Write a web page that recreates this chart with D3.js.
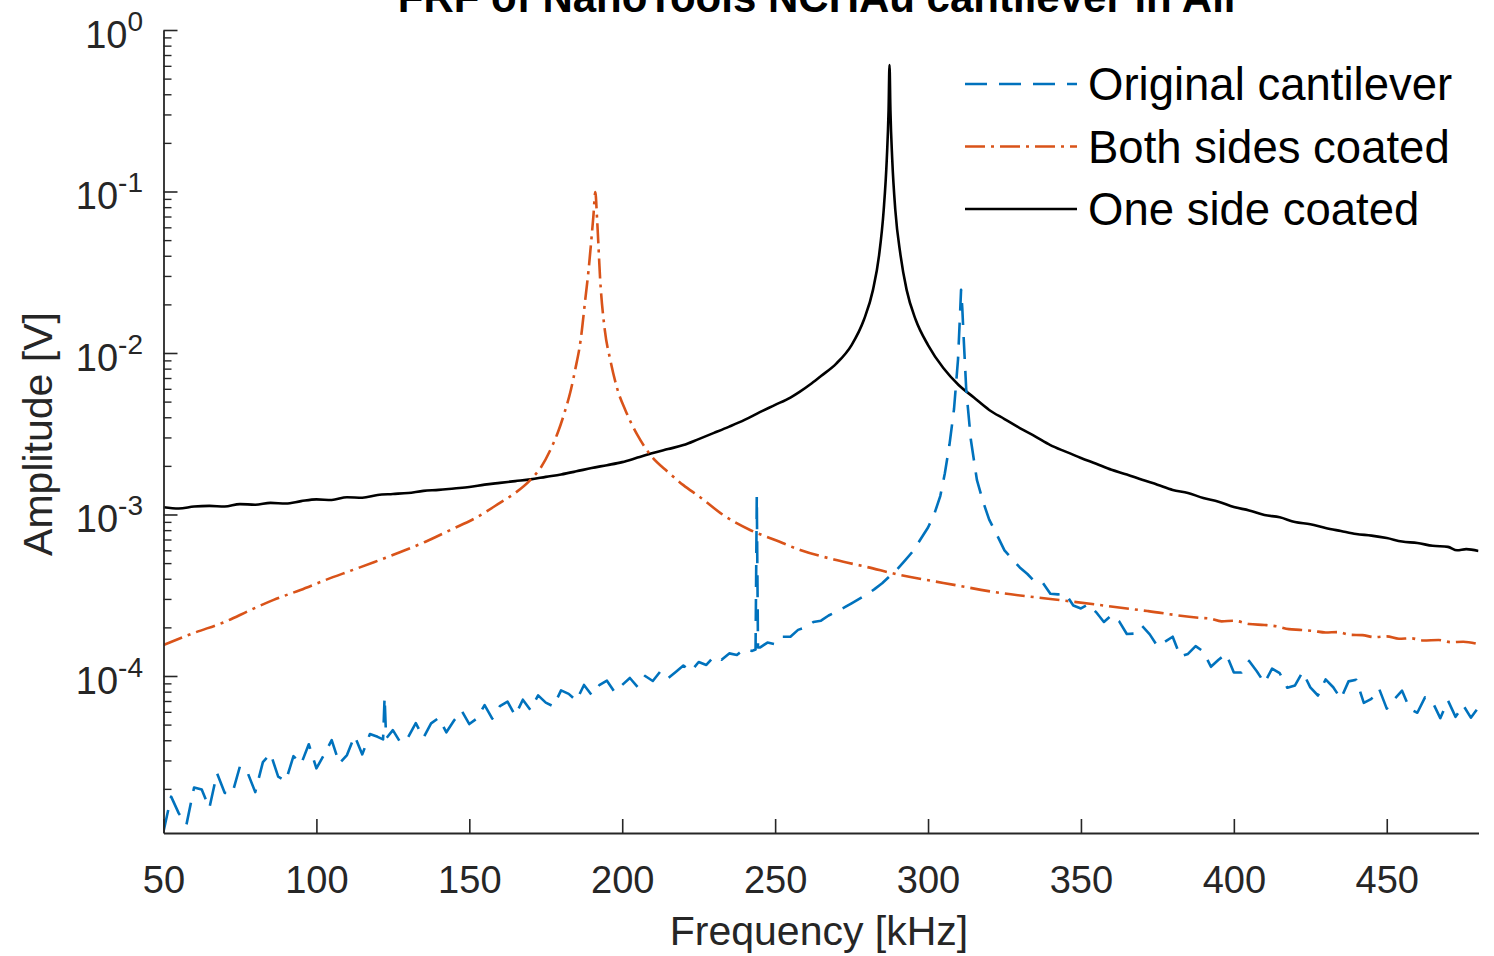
<!DOCTYPE html>
<html>
<head>
<meta charset="utf-8">
<script src="https://cdn.jsdelivr.net/npm/d3@7"></script>
<style>
  body { margin: 0; background: #fff; }
  text { font-family: "Liberation Sans", Arial, Helvetica, sans-serif; }
</style>
</head>
<body>
<div id="chart"></div>
<script>
// ---- data ----
const title = "FRF of NanoTools NCHAu cantilever in Air"
const xLabel = "Frequency [kHz]"
const yLabel = "Amplitude [V]"
const xTicks = [50, 100, 150, 200, 250, 300, 350, 400, 450]
const yTickExp = [0, -1, -2, -3, -4]
const seriesNames = ["Original cantilever", "Both sides coated", "One side coated"]

// original cantilever (blue, dashed)
const blueFreq = [50, 52.5, 55, 57.5, 60, 62.5, 65, 67.5, 70, 72.5, 75, 77.5, 80, 82.5, 85, 87.5, 90, 92.5, 95, 97.5,
  100, 102.5, 105, 107.5, 110, 112.5, 115, 117.5, 120, 121.8, 122.3, 122.8, 125, 127.5, 130, 132.5, 135, 137.5, 140, 142.5,
  145, 147.5, 150, 152.5, 155, 157.5, 160, 162.5, 165, 167.5, 170, 172.5, 175, 177.5, 180, 182.5, 185, 187.5, 190, 192.5,
  195, 197.5, 200, 202.5, 205, 207.5, 210, 212.5, 215, 217.5, 220, 222.5, 225, 227.5, 230, 232.5, 235, 237.5, 240, 242.5,
  243.6, 244.0, 244.4, 245, 247.5, 250, 252.5, 255, 257.5, 260, 262.5, 265, 267.5, 270, 272.5, 275, 277.5, 280, 282.5,
  285, 287.5, 290, 292.5, 295, 297.5, 300, 302, 304, 305.5, 307, 308.5, 309.8, 310.5, 310.8, 311.2, 311.6, 312.5, 314,
  316, 318, 320, 322.5, 325, 327.5, 330, 332.5, 335, 337.5, 340, 342.5, 345, 347.5, 350, 352.5, 355, 357.5, 360, 362.5,
  365, 367.5, 370, 372.5, 375, 377.5, 380, 382.5, 385, 387.5, 390, 392.5, 395, 397.5, 400, 402.5, 405, 407.5, 410, 412.5,
  415, 417.5, 420, 422.5, 425, 427.5, 430, 432.5, 435, 437.5, 440, 442.5, 445, 447.5, 450, 452.5, 455, 457.5, 460, 462.5,
  465, 467.5, 470, 472.5, 475, 477.5, 479.5]
const blueAmp = [1.09e-5, 1.79e-5, 1.41e-5, 1.2e-5, 2.04e-5, 1.98e-5, 1.52e-5, 2.5e-5, 1.89e-5, 1.87e-5, 2.76e-5, 2.52e-5, 1.91e-5, 2.93e-5, 3.31e-5, 2.38e-5, 2.24e-5, 3.19e-5, 2.85e-5, 3.78e-5,
  2.68e-5, 3.25e-5, 4.01e-5, 2.87e-5, 3.24e-5, 4.26e-5, 3.27e-5, 4.37e-5, 4.2e-5, 4.05e-5, 7.4e-5, 4.1e-5, 4.62e-5, 3.87e-5, 4.18e-5, 5.1e-5, 4.14e-5, 5.09e-5, 5.5e-5, 4.48e-5,
  5.3e-5, 6.1e-5, 5.04e-5, 5.46e-5, 6.61e-5, 5.45e-5, 6.51e-5, 6.93e-5, 5.68e-5, 7.13e-5, 6.16e-5, 7.59e-5, 6.84e-5, 6.48e-5, 8.14e-5, 7.75e-5, 7.02e-5, 8.8e-5, 7.63e-5, 8.77e-5,
  9.35e-5, 7.96e-5, 8.8e-5, 9.72e-5, 8.56e-5, 1.0e-4, 9.31e-5, 1.07e-4, 9.68e-5, 1.06e-4, 1.16e-4, 1.07e-4, 1.22e-4, 1.17e-4, 1.32e-4, 1.26e-4, 1.38e-4, 1.35e-4, 1.47e-4, 1.43e-4,
  1.46e-4, 1.3e-3, 1.5e-4, 1.5e-4, 1.61e-4, 1.57e-4, 1.75e-4, 1.75e-4, 1.93e-4, 2.0e-4, 2.16e-4, 2.2e-4, 2.37e-4, 2.5e-4, 2.65e-4, 2.82e-4, 3.0e-4, 3.2e-4, 3.45e-4,
  3.75e-4, 4.15e-4, 4.6e-4, 5.2e-4, 5.9e-4, 7.0e-4, 8.3e-4, 1.0e-3, 1.3e-3, 1.8e-3, 2.7e-3, 4.5e-3, 9.1e-3, 1.8e-2, 2.46e-2, 1.9e-2, 1.3e-2, 5.9e-3, 2.9e-3,
  1.63e-3, 1.2e-3, 9.3e-4, 7.5e-4, 6.0e-4, 5.3e-4, 4.7e-4, 4.28e-4, 3.82e-4, 3.78e-4, 3.23e-4, 3.2e-4, 3.23e-4, 2.73e-4, 2.62e-4, 2.78e-4, 2.48e-4, 2.16e-4, 2.38e-4, 2.18e-4,
  1.82e-4, 1.83e-4, 2.04e-4, 1.81e-4, 1.53e-4, 1.63e-4, 1.75e-4, 1.32e-4, 1.37e-4, 1.53e-4, 1.42e-4, 1.14e-4, 1.26e-4, 1.37e-4, 1.05e-4, 1.05e-4, 1.24e-4, 1.07e-4, 9.05e-5, 1.11e-4,
  1.04e-4, 8.45e-5, 8.74e-5, 1.06e-4, 8.5e-5, 7.57e-5, 9.52e-5, 8.52e-5, 7.22e-5, 9.26e-5, 9.48e-5, 6.82e-5, 7.22e-5, 8.34e-5, 6.28e-5, 7.2e-5, 8.11e-5, 6.26e-5, 5.92e-5, 7.37e-5,
  6.88e-5, 5.48e-5, 7.06e-5, 5.58e-5, 6.59e-5, 5.52e-5, 6.2e-5]

// both sides coated (orange, dash-dot)
const orangeFreq = [50, 60, 70, 78.4, 86, 94.8, 103, 111, 119, 127.5, 135.5, 143.8, 152, 160, 165, 170, 173.5, 176.5, 179,
  181.4, 183.2, 184.6, 186.4, 187.9, 189, 189.9, 190.6, 191.2, 191.8, 192.8, 194.3, 196.1, 198.5, 201, 205, 209.2, 215,
  220, 225.5, 233, 241.8, 250, 258.2, 270, 280, 290.8, 305, 323.5, 340, 356.2, 372, 388.9, 392, 396, 400, 405, 410, 414,
  418, 421.6, 426, 430, 434, 438, 442, 446, 450, 454, 458, 462, 467, 471, 475, 479.5]
const orangeAmp = [1.556e-4, 1.85e-4, 2.16e-4, 2.56e-4, 2.96e-4, 3.41e-4, 3.93e-4, 4.47e-4, 5.08e-4, 5.86e-4, 6.76e-4, 8.02e-4, 9.51e-4, 1.18e-3, 1.36e-3, 1.64e-3, 1.97e-3, 2.51e-3, 3.24e-3,
  4.44e-3, 5.9e-3, 7.85e-3, 1.2e-2, 2.13e-2, 3.27e-2, 5.01e-2, 7.15e-2, 9.93e-2, 6.66e-2, 2.83e-2, 1.39e-2, 9.06e-3, 5.9e-3, 4.44e-3, 3.1e-3, 2.34e-3, 1.83e-3,
  1.52e-3, 1.28e-3, 9.93e-4, 8.02e-4, 6.95e-4, 6.03e-4, 5.22e-4, 4.73e-4, 4.22e-4, 3.77e-4, 3.27e-4, 3.0e-4, 2.75e-4, 2.52e-4, 2.29e-4, 2.27e-4, 2.18e-4, 2.2e-4, 2.1e-4, 2.07e-4, 2.03e-4,
  1.95e-4, 1.93e-4, 1.9e-4, 1.86e-4, 1.87e-4, 1.8e-4, 1.79e-4, 1.74e-4, 1.76e-4, 1.7e-4, 1.71e-4, 1.66e-4, 1.67e-4, 1.62e-4, 1.63e-4, 1.58e-4]

// one side coated (black, solid)
const blackFreq = [50, 55, 60, 65, 70, 75, 80, 85, 90, 95, 100, 105, 110, 115, 120, 125, 130, 135, 140, 145, 150, 155,
  160, 165, 170, 175, 180, 185, 190, 195, 200, 205, 210, 215, 220, 225, 230, 235, 240, 245, 250, 255, 258, 262, 265, 270,
  275, 279, 282, 284, 285.5, 286.5, 287.1, 287.4, 287.7, 288.3, 289.3, 291, 293, 296, 300, 305, 310, 315, 320, 325, 330,
  335, 340, 345, 350, 355, 360, 365, 370, 375, 380, 385, 390, 395, 400, 405, 410, 415, 420, 425, 430, 435, 440, 445, 450,
  455, 460, 465, 470, 473, 476, 480]
const blackAmp = [1.11e-3, 1.09e-3, 1.12e-3, 1.13e-3, 1.12e-3, 1.16e-3, 1.15e-3, 1.18e-3, 1.17e-3, 1.21e-3, 1.24e-3, 1.23e-3, 1.28e-3, 1.27e-3, 1.32e-3, 1.34e-3, 1.36e-3, 1.4e-3, 1.42e-3, 1.45e-3, 1.48e-3, 1.53e-3,
  1.57e-3, 1.61e-3, 1.65e-3, 1.71e-3, 1.77e-3, 1.85e-3, 1.94e-3, 2.02e-3, 2.11e-3, 2.25e-3, 2.4e-3, 2.54e-3, 2.69e-3, 2.93e-3, 3.2e-3, 3.5e-3, 3.85e-3, 4.3e-3, 4.77e-3, 5.3e-3, 5.75e-3, 6.5e-3, 7.2e-3, 8.6e-3,
  1.12e-2, 1.6e-2, 2.46e-2, 4.04e-2, 7.68e-2, 0.157, 0.32, 0.607, 0.32, 0.157, 7.68e-2, 4.04e-2, 2.46e-2, 1.6e-2, 1.12e-2, 8.07e-3, 6.34e-3, 5.3e-3, 4.44e-3, 3.9e-3, 3.43e-3,
  3.05e-3, 2.69e-3, 2.45e-3, 2.24e-3, 2.06e-3, 1.89e-3, 1.77e-3, 1.64e-3, 1.53e-3, 1.42e-3, 1.36e-3, 1.265e-3, 1.2e-3, 1.112e-3, 1.06e-3, 9.93e-4, 9.6e-4, 8.99e-4, 8.7e-4, 8.25e-4, 7.9e-4, 7.57e-4, 7.4e-4, 7.15e-4,
  6.8e-4, 6.66e-4, 6.4e-4, 6.3e-4, 6.0e-4, 6.1e-4, 5.95e-4]

// ---- layout ----
const W = 1494, H = 956
const plot = {left: 163.5, right: 1478.5, top: 30, bottom: 833}
const axisColor = "#262626"

const svg = d3.select("#chart").append("svg")
  .attr("width", W)
  .attr("height", H)

const x = d3.scaleLinear().domain([50, 480]).range([plot.left, plot.right])
const y = d3.scaleLog().domain([1.066e-5, 1]).range([plot.bottom, plot.top])

svg.append("defs").append("clipPath").attr("id", "clip")
  .append("rect")
    .attr("x", plot.left).attr("y", plot.top - 2)
    .attr("width", plot.right - plot.left).attr("height", plot.bottom - plot.top + 2)

// series
const series = [
  {name: seriesNames[0], f: blueFreq, a: blueAmp, color: "#0072BD", dash: "22,12", curve: d3.curveLinear},
  {name: seriesNames[1], f: orangeFreq, a: orangeAmp, color: "#D95319", dash: "20,6,3,6", curve: d3.curveMonotoneX},
  {name: seriesNames[2], f: blackFreq, a: blackAmp, color: "#000000", dash: null, curve: d3.curveMonotoneX}
]

// draw black first, then orange, then blue on top
const lines = svg.append("g").attr("clip-path", "url(#clip)")
;[series[2], series[1], series[0]].forEach(s => {
  const line = d3.line()
    .curve(s.curve)
    .x(d => x(d[0]))
    .y(d => y(d[1]))
  lines.append("path")
    .datum(d3.zip(s.f, s.a))
    .attr("fill", "none")
    .attr("stroke", s.color)
    .attr("stroke-width", 2.6)
    .attr("stroke-linejoin", "round")
    .attr("stroke-dasharray", s.dash)
    .attr("d", line)
})

// x axis (ticks pointing inward)
const xAxis = svg.append("g")
  .attr("transform", "translate(0," + plot.bottom + ")")
  .call(d3.axisBottom(x).tickValues(xTicks).tickSize(-14).tickSizeOuter(0))
xAxis.select(".domain").attr("stroke", axisColor).attr("stroke-width", 1.8)
xAxis.selectAll(".tick line").attr("stroke", axisColor).attr("stroke-width", 1.6)
xAxis.selectAll("text")
  .attr("y", 60).attr("dy", 0)
  .attr("fill", axisColor)
  .style("font-size", "38px")
  .style("font-family", "'Liberation Sans', Arial, sans-serif")

// y axis, major + minor ticks inward
const majors = yTickExp.map(e => Math.pow(10, e))
const minors = []
yTickExp.concat([-5]).forEach(e => {
  for (let k = 2; k <= 9; k++) {
    const v = k * Math.pow(10, e)
    if (v >= y.domain()[0] && v <= 1) minors.push(v)
  }
})

const yAxis = svg.append("g")
  .attr("transform", "translate(" + plot.left + ",0)")
  .call(d3.axisLeft(y).tickValues(majors).tickSize(-14).tickSizeOuter(0).tickFormat(""))
yAxis.select(".domain").attr("stroke", axisColor).attr("stroke-width", 1.8)
yAxis.selectAll(".tick line").attr("stroke", axisColor).attr("stroke-width", 1.6)

const yMinor = svg.append("g")
  .attr("transform", "translate(" + plot.left + ",0)")
  .call(d3.axisLeft(y).tickValues(minors).tickSize(-8).tickSizeOuter(0).tickFormat(""))
yMinor.select(".domain").remove()
yMinor.selectAll(".tick line").attr("stroke", axisColor).attr("stroke-width", 1.4)

// y tick labels as 10^n
const yLab = svg.append("g").selectAll("text")
  .data(yTickExp)
  .join("text")
    .attr("x", 143)
    .attr("y", d => y(Math.pow(10, d)) + 18)
    .attr("text-anchor", "end")
    .attr("fill", axisColor)
    .style("font-size", "38px")
yLab.append("tspan").text("10")
yLab.append("tspan")
  .attr("dy", -17)
  .style("font-size", "28px")
  .text(d => d)

// labels and title
svg.append("text")
  .attr("x", 819).attr("y", 945)
  .attr("text-anchor", "middle")
  .attr("fill", axisColor)
  .style("font-size", "41px")
  .text(xLabel)

svg.append("text")
  .attr("transform", "translate(52,434) rotate(-90)")
  .attr("text-anchor", "middle")
  .attr("fill", axisColor)
  .style("font-size", "41px")
  .text(yLabel)

// title sits partly above the top edge, as in the reference
svg.append("text")
  .attr("x", 819).attr("y", 12)
  .attr("text-anchor", "middle")
  .attr("fill", "#000")
  .style("font-size", "42px")
  .style("font-weight", "bold")
  .text(title)

// legend (no box)
const legend = svg.append("g").selectAll("g")
  .data(series)
  .join("g")
    .attr("transform", (d, i) => "translate(965," + (84 + i * 62.5) + ")")
legend.append("line")
  .attr("x1", 0).attr("x2", 112)
  .attr("stroke", d => d.color)
  .attr("stroke-width", 2.6)
  .attr("stroke-dasharray", d => d.dash)
legend.append("text")
  .attr("x", 123).attr("y", 16)
  .attr("fill", "#000")
  .style("font-size", "45.5px")
  .text(d => d.name)
</script>
</body>
</html>
